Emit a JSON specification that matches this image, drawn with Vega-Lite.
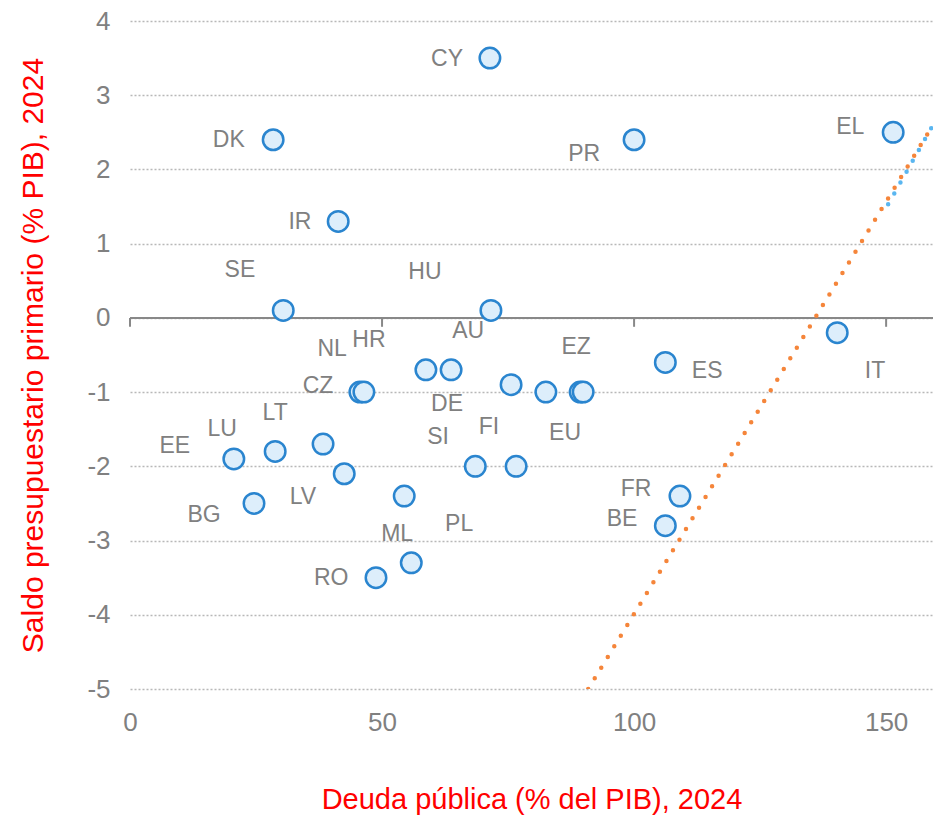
{
  "$schema": "https://vega.github.io/schema/vega-lite/v6.json",
  "width": 803,
  "height": 668,
  "autosize": {"type": "none"},
  "padding": {"left": 130, "top": 21, "right": 0, "bottom": 129},
  "background": "white",
  "config": {
    "view": {"stroke": null},
    "font": "Liberation Sans",
    "axis": {"labelFont": "Liberation Sans", "titleFont": "Liberation Sans"}
  },
  "datasets": {
    "points": [
      {"pais": "CY", "deuda": 71.4, "saldo": 3.5},
      {"pais": "DK", "deuda": 28.4, "saldo": 2.4},
      {"pais": "PR", "deuda": 100.0, "saldo": 2.4},
      {"pais": "EL", "deuda": 151.4, "saldo": 2.5},
      {"pais": "IR", "deuda": 41.3, "saldo": 1.3},
      {"pais": "SE", "deuda": 30.4, "saldo": 0.1},
      {"pais": "HU", "deuda": 71.6, "saldo": 0.1},
      {"pais": "IT", "deuda": 140.3, "saldo": -0.2},
      {"pais": "ES", "deuda": 106.2, "saldo": -0.6},
      {"pais": "NL", "deuda": 45.6, "saldo": -1.0},
      {"pais": "CZ", "deuda": 46.4, "saldo": -1.0},
      {"pais": "HR", "deuda": 58.7, "saldo": -0.7},
      {"pais": "DE", "deuda": 63.7, "saldo": -0.7},
      {"pais": "AU", "deuda": 75.6, "saldo": -0.9},
      {"pais": "FI", "deuda": 82.5, "saldo": -1.0},
      {"pais": "EU", "deuda": 89.3, "saldo": -1.0},
      {"pais": "EZ", "deuda": 89.9, "saldo": -1.0},
      {"pais": "LT", "deuda": 38.3, "saldo": -1.7},
      {"pais": "LU", "deuda": 28.8, "saldo": -1.8},
      {"pais": "EE", "deuda": 20.6, "saldo": -1.9},
      {"pais": "LV", "deuda": 42.5, "saldo": -2.1},
      {"pais": "SI", "deuda": 68.5, "saldo": -2.0},
      {"pais": "SK", "deuda": 76.6, "saldo": -2.0},
      {"pais": "BG", "deuda": 24.6, "saldo": -2.5},
      {"pais": "PL", "deuda": 54.4, "saldo": -2.4},
      {"pais": "FR", "deuda": 109.1, "saldo": -2.4},
      {"pais": "BE", "deuda": 106.2, "saldo": -2.8},
      {"pais": "ML", "deuda": 55.8, "saldo": -3.3},
      {"pais": "RO", "deuda": 48.8, "saldo": -3.5}
    ],
    "labels": [
      {"label": "CY", "lx": 62.9, "ly": 3.49},
      {"label": "DK", "lx": 19.6, "ly": 2.39},
      {"label": "PR", "lx": 90.1, "ly": 2.21},
      {"label": "EL", "lx": 142.9, "ly": 2.57},
      {"label": "IR", "lx": 33.7, "ly": 1.29},
      {"label": "SE", "lx": 21.8, "ly": 0.65},
      {"label": "HU", "lx": 58.5, "ly": 0.62},
      {"label": "IT", "lx": 147.8, "ly": -0.71},
      {"label": "ES", "lx": 114.5, "ly": -0.71},
      {"label": "NL", "lx": 40.1, "ly": -0.42},
      {"label": "HR", "lx": 47.4, "ly": -0.3},
      {"label": "AU", "lx": 67.1, "ly": -0.18},
      {"label": "CZ", "lx": 37.3, "ly": -0.92},
      {"label": "DE", "lx": 62.9, "ly": -1.16},
      {"label": "EZ", "lx": 88.5, "ly": -0.39},
      {"label": "EU", "lx": 86.3, "ly": -1.55},
      {"label": "FI", "lx": 71.2, "ly": -1.47},
      {"label": "SI", "lx": 61.1, "ly": -1.6},
      {"label": "LU", "lx": 18.3, "ly": -1.5},
      {"label": "LT", "lx": 28.8, "ly": -1.28},
      {"label": "EE", "lx": 8.9, "ly": -1.73},
      {"label": "LV", "lx": 34.3, "ly": -2.41},
      {"label": "BG", "lx": 14.7, "ly": -2.65},
      {"label": "ML", "lx": 53.0, "ly": -2.91},
      {"label": "PL", "lx": 65.3, "ly": -2.78},
      {"label": "RO", "lx": 39.9, "ly": -3.5},
      {"label": "FR", "lx": 100.4, "ly": -2.3},
      {"label": "BE", "lx": 97.6, "ly": -2.71}
    ],
    "trend": [
      {"serie": "a", "deuda": 90.9, "saldo": -5.0},
      {"serie": "a", "deuda": 159.3, "saldo": 2.6}
    ],
    "trend2": [
      {"serie": "b", "deuda": 150.4, "saldo": 1.53},
      {"serie": "b", "deuda": 159.3, "saldo": 2.6}
    ],
    "ticks": [
      {"deuda": 0}, {"deuda": 50}, {"deuda": 100}, {"deuda": 150}
    ]
  },
  "layer": [
    {
      "data": {"name": "points"},
      "mark": {"type": "point", "opacity": 0},
      "encoding": {
        "x": {
          "field": "deuda", "type": "quantitative",
          "scale": {"domain": [0, 159.3], "nice": false, "zero": false},
          "axis": {
            "values": [0, 50, 100, 150],
            "labelFlush": false,
            "title": "Deuda pública (% del PIB), 2024",
            "titleColor": "#ff0000", "titleFontSize": 29, "titleFontWeight": "normal",
            "titlePadding": 50,
            "labelColor": "#808080", "labelFontSize": 26, "labelPadding": 20,
            "domain": false, "ticks": false, "grid": false
          }
        },
        "y": {
          "field": "saldo", "type": "quantitative",
          "scale": {"domain": [-5, 4], "nice": false},
          "axis": {
            "values": [-5, -4, -3, -2, -1, 0, 1, 2, 3, 4],
            "labelExpr": "'' + datum.value",
            "labelFlush": false,
            "title": "Saldo presupuestario primario (% PIB), 2024",
            "titleColor": "#ff0000", "titleFontSize": 30, "titleFontWeight": "normal",
            "titlePadding": 38,
            "labelColor": "#808080", "labelFontSize": 26, "labelPadding": 20,
            "domain": false, "ticks": false,
            "grid": true, "gridColor": "#b8b8b8", "gridDash": [2, 2], "gridWidth": 1.5
          }
        }
      }
    },
    {
      "data": {"values": [{"v": 0}]},
      "mark": {"type": "rule", "color": "#888888", "strokeWidth": 2},
      "encoding": {"y": {"field": "v", "type": "quantitative"}}
    },
    {
      "data": {"name": "ticks"},
      "mark": {"type": "rule", "color": "#888888", "strokeWidth": 2},
      "encoding": {
        "x": {"field": "deuda", "type": "quantitative"},
        "y": {"datum": 0, "type": "quantitative"},
        "y2": {"datum": -0.12}
      }
    },
    {
      "data": {"name": "trend"},
      "mark": {"type": "line", "color": "#f5853a", "strokeWidth": 4.5, "strokeDash": [0, 12.5], "strokeCap": "round", "clip": true},
      "encoding": {
        "x": {"field": "deuda", "type": "quantitative"},
        "y": {"field": "saldo", "type": "quantitative"}
      }
    },
    {
      "data": {"name": "trend2"},
      "mark": {"type": "line", "color": "#5ab6f0", "strokeWidth": 4.5, "strokeDash": [0, 12.5], "strokeCap": "round", "clip": true},
      "encoding": {
        "x": {"field": "deuda", "type": "quantitative"},
        "y": {"field": "saldo", "type": "quantitative"}
      }
    },
    {
      "data": {"name": "points"},
      "mark": {"type": "point", "shape": "circle", "size": 420, "filled": false, "fill": "#ddeefb", "fillOpacity": 1, "stroke": "#2a85cf", "strokeWidth": 2.5, "opacity": 1},
      "encoding": {
        "x": {"field": "deuda", "type": "quantitative"},
        "y": {"field": "saldo", "type": "quantitative"},
        "tooltip": [{"field": "pais"}, {"field": "deuda"}, {"field": "saldo"}]
      }
    },
    {
      "data": {"name": "labels"},
      "mark": {"type": "text", "fontSize": 23, "color": "#808080", "align": "center", "baseline": "middle", "font": "Liberation Sans"},
      "encoding": {
        "x": {"field": "lx", "type": "quantitative"},
        "y": {"field": "ly", "type": "quantitative"},
        "text": {"field": "label"}
      }
    }
  ]
}
